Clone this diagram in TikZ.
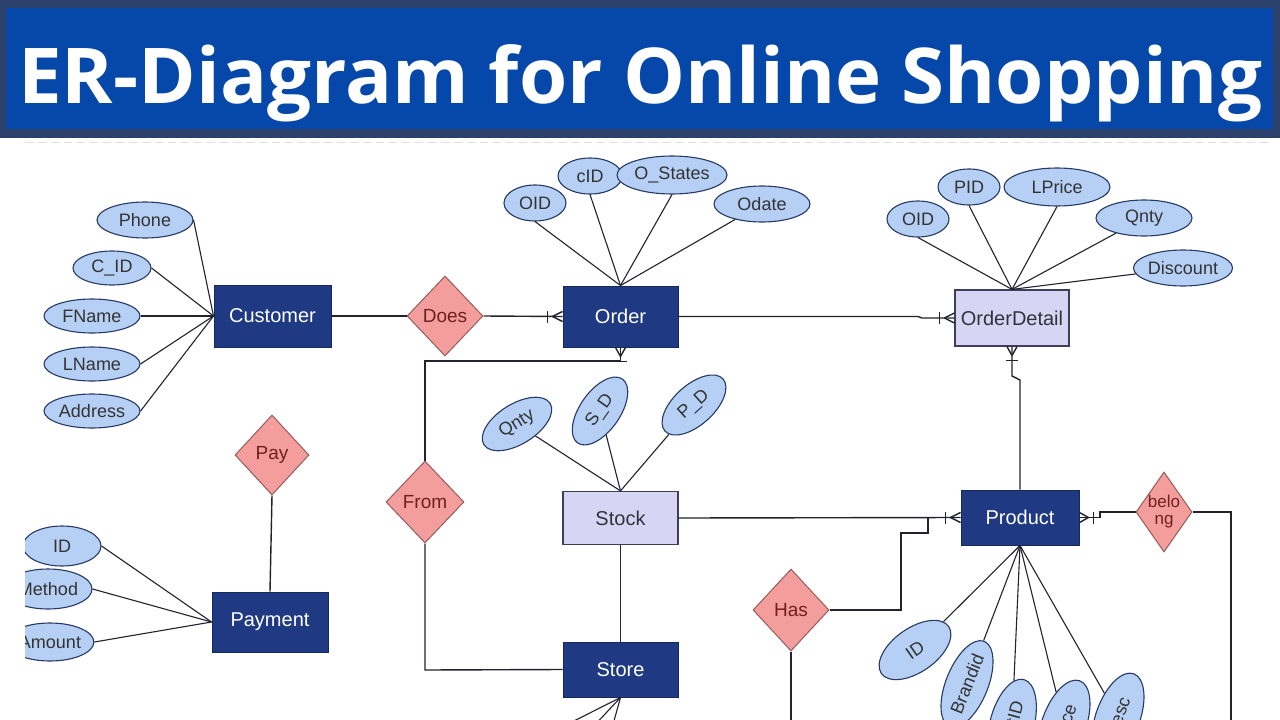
\documentclass[tikz,border=0pt]{standalone}
\usepackage{fontspec}
\setmainfont{Liberation Sans}
\newfontfamily\titlefont{Open Sans}
\usetikzlibrary{shapes.geometric}
\definecolor{hdrdark}{RGB}{44,64,108}
\definecolor{hdrblue}{RGB}{6,72,170}
\definecolor{entf}{RGB}{31,58,130}
\definecolor{entb}{RGB}{22,40,92}
\definecolor{weakf}{RGB}{214,214,244}
\definecolor{weakb}{RGB}{62,62,92}
\definecolor{weakt}{RGB}{50,50,62}
\definecolor{attrf}{RGB}{182,208,245}
\definecolor{attrb}{RGB}{40,58,100}
\definecolor{relf}{RGB}{243,157,157}
\definecolor{relb}{RGB}{150,92,92}
\definecolor{relt}{RGB}{112,32,32}
\definecolor{linec}{RGB}{35,35,48}
\tikzset{
  entity/.style={draw=entb, fill=entf, text=white, line width=1pt, inner sep=0pt,
    font=\fontsize{20}{22}\selectfont},
  weak/.style={draw=weakb, fill=weakf, text=weakt, line width=1.2pt, inner sep=0pt,
    font=\fontsize{20}{22}\selectfont},
  attr/.style={ellipse, draw=attrb, fill=attrf, line width=1.1pt, inner sep=0pt,
    text=black!80, font=\fontsize{18}{20}\selectfont},
  rel/.style={diamond, draw=relb, fill=relf, line width=1pt, inner sep=0pt},
  reltext/.style={text=relt, font=\fontsize{19}{20}\selectfont, align=center, inner sep=0pt},
  conn/.style={draw=linec, line width=1.4pt},
  alink/.style={draw=linec, line width=1.1pt},
}
% crow's foot markers
\newcommand\mkW[1]{%
  \draw[conn] ([xshift=-15pt,yshift=-6pt]#1) -- ([xshift=-15pt,yshift=6pt]#1);
  \draw[conn] ([xshift=-10pt]#1) -- ([yshift=-5pt]#1) ([xshift=-10pt]#1) -- ([yshift=5pt]#1);}
\newcommand\mkE[1]{%
  \draw[conn] ([xshift=14pt,yshift=-6pt]#1) -- ([xshift=14pt,yshift=6pt]#1);
  \draw[conn] ([xshift=9pt]#1) -- ([yshift=-5pt]#1) ([xshift=9pt]#1) -- ([yshift=5pt]#1);}
\newcommand\mkS[1]{%
  \draw[conn] ([xshift=-6pt,yshift=-14pt]#1) -- ([xshift=6pt,yshift=-14pt]#1);
  \draw[conn] ([yshift=-9pt]#1) -- ([xshift=-5pt]#1) ([yshift=-9pt]#1) -- ([xshift=5pt]#1);}
\begin{document}
\begin{tikzpicture}[x=1pt,y=-1pt]
\useasboundingbox (0,0) rectangle (1280,720);
\clip (0,0) rectangle (1280,720);
\fill[white] (0,0) rectangle (1280,720);
% header
\fill[hdrdark] (0,0) rectangle (1280,138);
\fill[hdrblue] (6,8) rectangle (1273,129);
\node[anchor=base west, inner sep=0pt, text=white] (title) at (18,103)
  {\resizebox{1244pt}{\height}{\titlefont\bfseries\fontsize{77}{80}\selectfont ER-Diagram for Online Shopping}};
\draw[black!12, line width=1pt, dash pattern=on 8pt off 5pt] (25,142) -- (1270,142);

% entities
\node[entity, minimum width=117, minimum height=62] (customer) at (272.5,316) {Customer};
\node[entity, minimum width=115, minimum height=61] (order) at (620.5,316.5) {Order};
\node[weak, minimum width=114, minimum height=56] (orderdetail) at (1012,318) {OrderDetail};
\node[weak, minimum width=115, minimum height=53] (stock) at (620.5,518) {Stock};
\node[entity, minimum width=115, minimum height=55] (store) at (620.5,669.5) {Store};
\node[entity, minimum width=118, minimum height=55] (product) at (1020,517.5) {Product};
\node[entity, minimum width=116, minimum height=60] (payment) at (270,622) {Payment};

% relationships
\node[rel, minimum width=76, minimum height=80, label={[reltext]center:Does}] (does) at (445,316) {};
\node[rel, minimum width=78, minimum height=82, label={[reltext]center:From}] (from) at (425,502) {};
\node[rel, minimum width=74, minimum height=80, label={[reltext]center:Pay}] (pay) at (272,455) {};
\node[rel, minimum width=76, minimum height=82, label={[reltext]center:Has}] (has) at (791,610) {};
\node[rel, minimum width=56, minimum height=80, label={[reltext, font=\fontsize{17}{17}\selectfont]center:belo\\ng}] (belong) at (1164,512) {};

% customer attributes
\node[attr, minimum width=96, minimum height=36] (phone) at (145,220) {Phone};
\node[attr, minimum width=78, minimum height=34] (cid) at (112,268) {C\_ID};
\node[attr, minimum width=96, minimum height=34] (fname) at (92,316) {FName};
\node[attr, minimum width=96, minimum height=34] (lname) at (92,364) {LName};
\node[attr, minimum width=96, minimum height=34] (address) at (92,411) {Address};

% order attributes
\node[attr, minimum width=62, minimum height=36] (oid1) at (535,203) {OID};
\node[attr, minimum width=64, minimum height=36] (cid2) at (590,176) {cID};
\node[attr, minimum width=110, minimum height=38] (ostates) at (672,175) {O\_States};
\node[attr, minimum width=96, minimum height=36] (odate) at (762,204) {Odate};

% orderdetail attributes
\node[attr, minimum width=62, minimum height=36] (oid2) at (918,219) {OID};
\node[attr, minimum width=62, minimum height=36] (pid) at (969,187) {PID};
\node[attr, minimum width=106, minimum height=38] (lprice) at (1057,187) {LPrice};
\node[attr, minimum width=96, minimum height=36] (qnty) at (1144,218) {Qnty};
\node[attr, minimum width=94, minimum height=36] (discount) at (1183,268) {Discount};

% stock attributes
\node[attr, minimum width=78, minimum height=40, rotate=32] (qnty2) at (517,424) {Qnty};
\node[attr, minimum width=78, minimum height=40, rotate=55] (sd) at (600,411) {S\_D};
\node[attr, minimum width=78, minimum height=40, rotate=42] (pd) at (694,405) {P\_D};

% product attributes
\node[attr, minimum width=82, minimum height=44, rotate=35] (prid) at (915,650) {ID};
\node[attr, minimum width=92, minimum height=42, rotate=68] (brand) at (967,684) {Brandid};
\node[attr, minimum width=92, minimum height=44, rotate=75] (catid) at (1012,724) {CatID};
\node[attr, minimum width=92, minimum height=44, rotate=70] (price) at (1064,724) {Price};
\node[attr, minimum width=92, minimum height=44, rotate=70] (desc) at (1118,717) {Desc};

% payment attributes (cut at the left edge)
\begin{scope}
\clip (25,500) rectangle (210,700);
\node[attr, minimum width=78, minimum height=40] (payid) at (62,546) {ID};
\node[attr, minimum width=88, minimum height=40] (method) at (48,589) {Method};
\node[attr, minimum width=86, minimum height=38] (amount) at (50,642) {Amount};
\end{scope}

% attribute links
\foreach \a in {phone,cid,fname,lname,address}
  \draw[alink] (\a.east) -- (customer.west);
\foreach \a in {oid1,cid2,ostates}
  \draw[alink] (\a.south) -- (order.north);
\draw[alink] (odate) -- (order.north);
\foreach \a in {oid2,pid,lprice}
  \draw[alink] (\a.south) -- (orderdetail.north);
\foreach \a in {qnty,discount}
  \draw[alink] (\a) -- (orderdetail.north);
\foreach \a in {qnty2,sd,pd}
  \draw[alink] (\a) -- (stock.north);
\foreach \a in {prid,brand,catid,price,desc}
  \draw[alink] (\a) -- (product.south);
\foreach \a in {payid,method,amount}
  \draw[alink] (\a.east) -- (payment.west);

% store attribute links leaving the picture
\coordinate (st1) at (560,728);
\coordinate (st2) at (592,728);
\coordinate (st3) at (612,728);
\foreach \c in {st1,st2,st3}
  \draw[alink] (store.south) -- (\c);

% relationship connectors
\draw[conn] (customer.east) -- (does.west);
\draw[conn] (does.east) -- (order.west);
\mkW{order.west}

\coordinate (jo1) at (918,316.5);
\coordinate (jo2) at (922,318);
\draw[conn] (order.east) -- (jo1) -- (jo2) -- (orderdetail.west);
\mkW{orderdetail.west}

\coordinate (fr1) at (425,361);
\coordinate (fr2) at (620.5,361);
\draw[conn] (from.north) -- (fr1) -- (fr2) -- (order.south);
\mkS{order.south}
\coordinate (fr3) at (425,670);
\draw[conn] (from.south) -- (fr3) -- (store.west);

\draw[conn] (stock.south) -- (store.north);
\draw[conn] (stock.east) -- (product.west);
\mkW{product.west}

\coordinate (od1) at (1012,376);
\coordinate (od2) at (1020,380);
\draw[conn] (product.north) -- (od2) -- (od1) -- (orderdetail.south);
\mkS{orderdetail.south}

\coordinate (hs1) at (901,610);
\coordinate (hs2) at (901,533);
\coordinate (hs3) at (928,533);
\coordinate (hs4) at (928,517.5);
\draw[conn] (has.east) -- (hs1) -- (hs2) -- (hs3) -- (hs4);
\coordinate (hs5) at (791,728);
\draw[conn] (has.south) -- (hs5);

\coordinate (pb1) at (1100,517.5);
\coordinate (pb2) at (1100,512);
\draw[conn] (product.east) -- (pb1) -- (pb2) -- (belong.west);
\mkE{product.east}
\coordinate (bl1) at (1231,512);
\coordinate (bl2) at (1231,728);
\draw[conn] (belong.east) -- (bl1) -- (bl2);

\draw[conn] (pay.south) -- (payment.north);
\end{tikzpicture}
\end{document}
